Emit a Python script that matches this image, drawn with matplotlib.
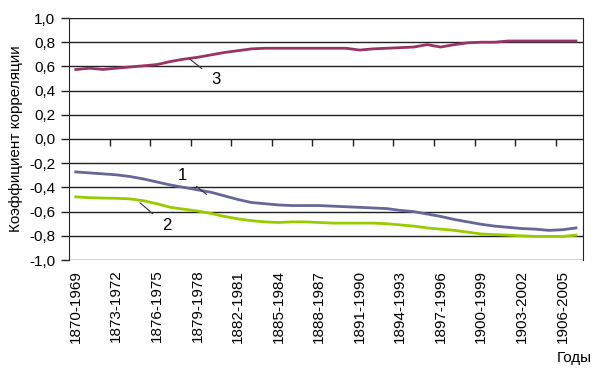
import matplotlib
matplotlib.use("Agg")
import matplotlib.pyplot as plt
from matplotlib.ticker import FixedLocator

plt.rcParams['font.family'] = ['Liberation Sans', 'DejaVu Sans']

start_years = list(range(1870, 1908))
categories = [f"{y}-{y + 99}" for y in start_years]

series1 = [-0.272, -0.28, -0.288, -0.296, -0.31, -0.33, -0.355, -0.38, -0.40, -0.42,
           -0.44, -0.47, -0.50, -0.525, -0.535, -0.545, -0.55, -0.55, -0.55, -0.555,
           -0.56, -0.565, -0.57, -0.575, -0.59, -0.60, -0.62, -0.64, -0.665, -0.685,
           -0.705, -0.72, -0.73, -0.74, -0.745, -0.755, -0.75, -0.735]
series2 = [-0.478, -0.485, -0.488, -0.49, -0.495, -0.51, -0.535, -0.565, -0.58, -0.595,
           -0.615, -0.64, -0.66, -0.675, -0.685, -0.69, -0.685, -0.685, -0.69, -0.695,
           -0.695, -0.695, -0.695, -0.70, -0.71, -0.72, -0.735, -0.745, -0.755, -0.77,
           -0.785, -0.79, -0.795, -0.80, -0.805, -0.805, -0.805, -0.795]
series3 = [0.574, 0.585, 0.575, 0.585, 0.595, 0.605, 0.615, 0.64, 0.66, 0.675,
           0.695, 0.715, 0.73, 0.745, 0.75, 0.75, 0.75, 0.75, 0.75, 0.75,
           0.75, 0.735, 0.745, 0.75, 0.755, 0.76, 0.78, 0.76, 0.78, 0.795,
           0.80, 0.80, 0.81, 0.81, 0.81, 0.81, 0.81, 0.81]

y_ticks = [-1.0, -0.8, -0.6, -0.4, -0.2, 0.0, 0.2, 0.4, 0.6, 0.8, 1.0]
y_ticklabels = [f"{v:.1f}".replace('.', ',') for v in y_ticks]

FS = 11

fig = plt.figure(figsize=(6.05, 3.78), dpi=100)
ax = fig.add_axes([69 / 605, 1 - 260 / 378, (582.7 - 69) / 605, (260 - 18) / 378])

x = list(range(len(categories)))
ax.plot(x, series3, color='#993366', lw=2)
ax.plot(x, series1, color='#666699', lw=2)
ax.plot(x, series2, color='#99CC00', lw=2)

ax.set_xlim(-0.5, len(categories) - 0.5)
ax.set_ylim(-1.0, 1.0)
ax.set_yticks(y_ticks)
ax.set_yticklabels(y_ticklabels, fontsize=FS)
ax.tick_params(axis='y', direction='out', length=6, width=1, color='#222222', pad=4)
for v in y_ticks:
    ax.axhline(v, color='#222222', lw=1, zorder=0.5)

# category axis crossing at 0 with boundary tick marks
ax.spines['bottom'].set_position(('data', 0))
ax.spines['bottom'].set_visible(False)
ax.spines['top'].set_visible(False)
ax.spines['left'].set_color('#222222')
ax.spines['right'].set_color('#222222')
bounds = [i - 0.5 for i in range(3, len(categories), 3)]
ax.xaxis.set_major_locator(FixedLocator(bounds))
ax.tick_params(axis='x', direction='out', length=5, width=1, color='#222222', labelbottom=False)

sec = ax.secondary_xaxis(0.0)
sec.set_xticks(list(range(0, len(categories), 3)))
sec.set_xticklabels(categories[::3], rotation=90, fontsize=FS)
sec.tick_params(length=0, pad=7)
sec.spines['bottom'].set_visible(False)

ax.set_ylabel('Коэффициент корреляции', fontsize=FS, labelpad=4)

fig.text(592 / 605, 1 - 358 / 378, 'Годы', ha='right', va='center', fontsize=FS)

ax.annotate('3', xy=(8.44, 0.66), xytext=(10.36, 0.49), fontsize=12, ha='center', va='center',
            arrowprops=dict(arrowstyle='-', color='#333333', lw=0.8, shrinkA=6, shrinkB=0))
ax.annotate('1', xy=(9.68, -0.458), xytext=(7.9, -0.30), fontsize=12, ha='center', va='center',
            arrowprops=dict(arrowstyle='-', color='#333333', lw=0.8, shrinkA=6, shrinkB=0))
ax.annotate('2', xy=(4.75, -0.527), xytext=(6.72, -0.717), fontsize=12, ha='center', va='center',
            arrowprops=dict(arrowstyle='-', color='#333333', lw=0.8, shrinkA=6, shrinkB=0))

fig.savefig('out.png', dpi=100)
